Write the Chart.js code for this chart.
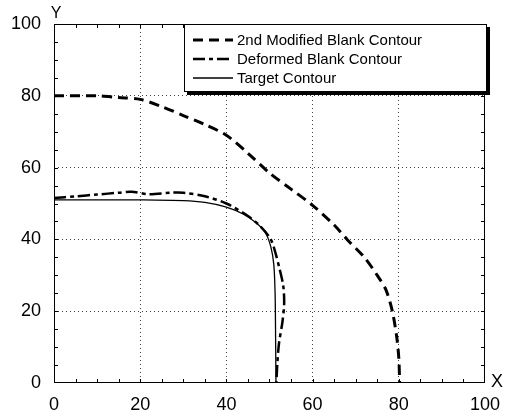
<!DOCTYPE html>
<html>
<head>
<meta charset="utf-8">
<script src="https://cdn.jsdelivr.net/npm/chart.js@4/dist/chart.umd.min.js"></script>
<style>
  html, body { margin: 0; padding: 0; background: #fff; }
  #wrap { width: 511px; height: 415px; position: relative; }
</style>
</head>
<body>
<div id="wrap"><canvas id="chart"></canvas></div>
<script>
// --- data ---
const xTicks = [0, 20, 40, 60, 80, 100];
const yTicks = [0, 20, 40, 60, 80, 100];

const modLabel = '2nd Modified Blank Contour';
const modX = [0, 10, 15, 20, 25, 30, 35, 40, 45, 50, 55, 60, 65, 68, 72, 75, 77, 78.5, 79.5, 80, 80.2];
const modY = [80, 80, 79.5, 79, 77, 74.5, 72, 69, 64, 58.5, 54, 49.5, 44, 40, 35, 30, 26, 20, 13, 7, 0];

const defLabel = 'Deformed Blank Contour';
const defX = [0, 5, 10, 15, 18, 22, 27, 30, 35, 40, 45, 48, 50.3, 51.2, 52.3, 53.2, 53.4, 53, 52.2, 51.8, 51.6];
const defY = [51.5, 52, 52.5, 53, 53.3, 52.6, 53, 53, 52, 50, 46.5, 43.5, 40, 37, 32, 27, 22, 17, 11, 5, 0];

const tgtLabel = 'Target Contour';
const tgtX = [0, 10, 20, 30, 35, 40, 44, 47, 49, 50.3, 51, 51.3, 51.4, 51.5];
const tgtY = [51, 51, 51, 50.8, 50.3, 49, 47, 44.5, 42, 38, 33, 25, 15, 0];

// --- helpers ---
function pts(xs, ys) {
    return xs.map((x, i) => ({ x: x, y: ys[i] }));
}

const FONT = '"Liberation Sans", Arial, sans-serif';

// frame, inward minor ticks, axis letters, legend box
const decor = {
    id: 'decor',
    afterDraw(chart) {
        const { ctx, chartArea: a, scales } = chart;
        const sx = scales.x, sy = scales.y;
        ctx.save();
        ctx.strokeStyle = '#000';
        ctx.lineWidth = 1;
        ctx.setLineDash([]);
        ctx.strokeRect(a.left + 0.5, a.top + 0.5, a.right - a.left - 1, a.bottom - a.top - 1);

        // minor ticks every 5 units, pointing inwards
        ctx.beginPath();
        for (let v = 5; v < 100; v += 5) {
            const px = Math.round(sx.getPixelForValue(v)) + 0.5;
            ctx.moveTo(px, a.bottom); ctx.lineTo(px, a.bottom - 4);
            ctx.moveTo(px, a.top); ctx.lineTo(px, a.top + 4);
            const py = Math.round(sy.getPixelForValue(v)) + 0.5;
            ctx.moveTo(a.left, py); ctx.lineTo(a.left + 4, py);
            ctx.moveTo(a.right, py); ctx.lineTo(a.right - 4, py);
        }
        ctx.stroke();

        // axis letters
        ctx.fillStyle = '#000';
        ctx.font = '16px ' + FONT;
        ctx.textAlign = 'center';
        ctx.textBaseline = 'middle';
        ctx.fillText('Y', a.left + 2, a.top - 10);
        ctx.font = '18px ' + FONT;
        ctx.fillText('X', a.right + 12, a.bottom - 1);

        // legend box with shadow
        const bx = 184, by = 24, bw = 303, bh = 68;
        ctx.fillStyle = '#000';
        ctx.fillRect(bx + 3, by + 3, bw, bh);
        ctx.fillStyle = '#fff';
        ctx.fillRect(bx, by, bw, bh);
        ctx.strokeStyle = '#000';
        ctx.lineWidth = 1;
        ctx.strokeRect(bx + 0.5, by + 0.5, bw - 1, bh - 1);

        const rows = [40, 59, 78];
        ctx.font = '15px ' + FONT;
        ctx.textAlign = 'left';
        chart.data.datasets.forEach((ds, i) => {
            const y = rows[i];
            ctx.beginPath();
            ctx.lineWidth = ds.borderWidth;
            ctx.setLineDash(ds.borderDash || []);
            ctx.moveTo(193, y);
            ctx.lineTo(233, y);
            ctx.stroke();
            ctx.setLineDash([]);
            ctx.fillStyle = '#000';
            ctx.fillText(ds.label, 237, y + 1);
        });
        ctx.restore();
    }
};

function axis(ticksArr, extra) {
    return Object.assign({
        type: 'linear',
        min: 0,
        max: 100,
        afterBuildTicks: s => { s.ticks = ticksArr.map(v => ({ value: v })); },
        grid: {
            drawTicks: false,
            lineWidth: 1,
            color: c => (c.tick && (c.tick.value === 0 || c.tick.value === 100)) ? 'rgba(0,0,0,0)' : '#444'
        },
        border: { display: false, dash: [1, 3] }
    }, extra);
}

new Chart(document.getElementById('chart'), {
    type: 'scatter',
    data: {
        datasets: [
            {
                label: modLabel,
                data: pts(modX, modY),
                borderColor: '#000',
                borderWidth: 3,
                borderDash: [10, 6]
            },
            {
                label: defLabel,
                data: pts(defX, defY),
                borderColor: '#000',
                borderWidth: 2.5,
                borderDash: [12, 4, 4, 4]
            },
            {
                label: tgtLabel,
                data: pts(tgtX, tgtY),
                borderColor: '#000',
                borderWidth: 1.3
            }
        ]
    },
    options: {
        responsive: true,
        maintainAspectRatio: false,
        animation: false,
        showLine: true,
        elements: {
            point: { radius: 0 },
            line: { tension: 0.3, fill: false }
        },
        layout: { padding: { left: 0, right: 21, top: 24, bottom: 0 } },
        plugins: {
            legend: { display: false },
            tooltip: { enabled: false }
        },
        scales: {
            x: axis(xTicks, {
                ticks: { color: '#000', font: { family: FONT, size: 18 }, padding: 11, maxRotation: 0 },
                afterFit: s => { s.height = 32; }
            }),
            y: axis(yTicks, {
                ticks: { color: '#000', font: { family: FONT, size: 18 }, padding: 13 },
                afterFit: s => { s.width = 54; }
            })
        }
    },
    plugins: [decor]
});
</script>
</body>
</html>
